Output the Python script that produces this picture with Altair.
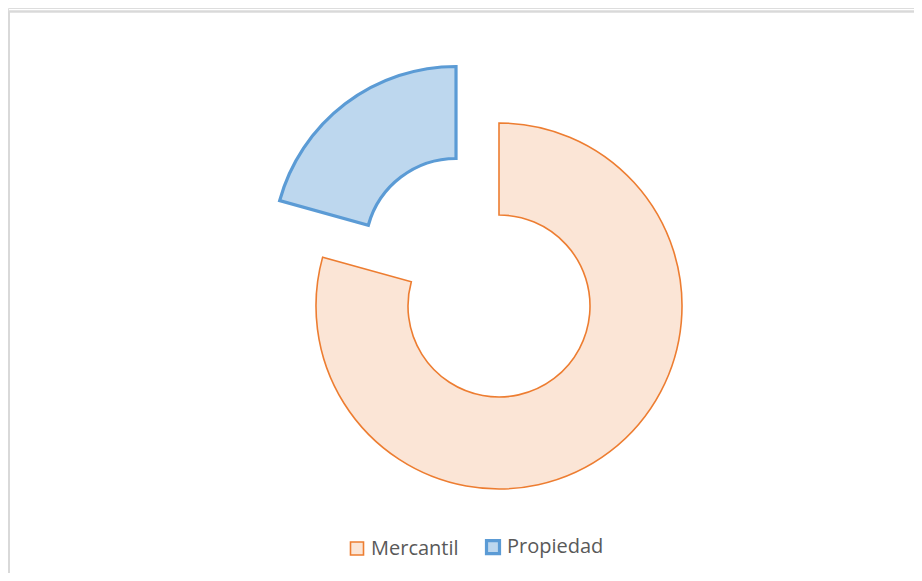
import altair as alt
import pandas as pd

categorias = ["Mercantil", "Propiedad"]
valores = [79.3, 20.7]

fills = ["#FBE5D6", "#BDD7EE"]
strokes = ["#ED7D31", "#5B9BD5"]
stroke_widths = [1.6, 3.2]

W, H = 906, 565
CX, CY = 491, 298
R_OUT, R_IN = 183, 91
EXPLODED = "Propiedad"
EXPLODE_PX = 71

df = pd.DataFrame({"categoria": categorias, "valor": valores})

base = alt.Chart(df).transform_joinaggregate(
    total="sum(valor)"
).transform_window(
    cum="sum(valor)", frame=[None, 0]
).transform_calculate(
    t1="datum.cum / datum.total * 2 * PI",
    t0="(datum.cum - datum.valor) / datum.total * 2 * PI",
).transform_calculate(
    mid="(datum.t0 + datum.t1) / 2",
    ex=f"datum.categoria == '{EXPLODED}' ? {EXPLODE_PX} : 0",
).transform_calculate(
    cx=f"{CX} + datum.ex * sin(datum.mid)",
    cy=f"{CY} - datum.ex * cos(datum.mid)",
)


def leg():
    return alt.Legend(
        title=None,
        orient="none",
        legendX=339,
        legendY=529,
        direction="horizontal",
        symbolType="square",
        symbolSize=169,
        labelFontSize=20,
        labelFont="Open Sans",
        labelColor="#595959",
        labelOffset=4,
        columnPadding=21,
        symbolOpacity=1,
    )


arcs = base.mark_arc(outerRadius=R_OUT, innerRadius=R_IN, strokeJoin="miter").encode(
    x=alt.X("cx:Q", scale=None, axis=None),
    y=alt.Y("cy:Q", scale=None, axis=None),
    theta=alt.Theta("t0:Q", scale=None),
    theta2="t1:Q",
    color=alt.Color("categoria:N", scale=alt.Scale(domain=categorias, range=fills), legend=leg()),
    stroke=alt.Stroke("categoria:N", scale=alt.Scale(domain=categorias, range=strokes), legend=leg()),
    strokeWidth=alt.StrokeWidth(
        "categoria:N", scale=alt.Scale(domain=categorias, range=stroke_widths), legend=leg()
    ),
)

border_left = alt.Chart(df).mark_rule(color="#D9D9D9", strokeWidth=2).encode(
    x=alt.value(1), y=alt.value(3.5), y2=alt.value(H)
)
border_top = alt.Chart(df).mark_rule(color="#D9D9D9", strokeWidth=2).encode(
    x=alt.value(1), x2=alt.value(W), y=alt.value(3.5)
)

chart = alt.layer(border_left, border_top, arcs).properties(
    width=W, height=H, padding=0, autosize="none"
).configure_view(stroke=None).configure(background="white")

chart.save("out.html", embed_options={"renderer": "svg", "actions": False})
